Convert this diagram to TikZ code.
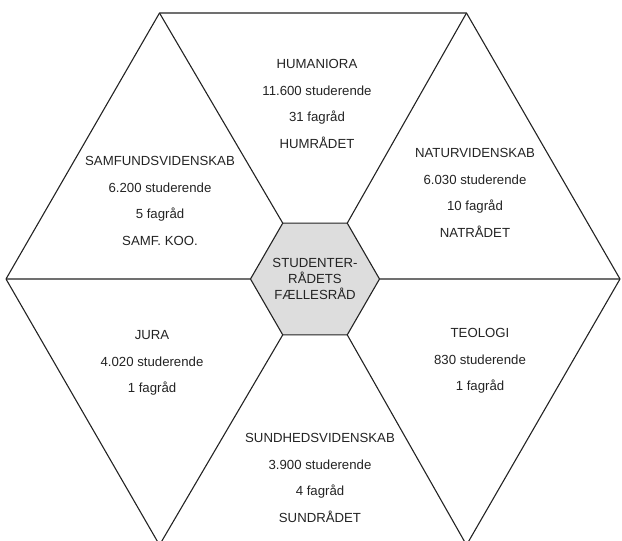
\documentclass[tikz,border=0pt]{standalone}
\usepackage{fontspec}
\setmainfont{Liberation Sans}
\usetikzlibrary{shapes.geometric}

\definecolor{linegray}{RGB}{35,35,35}
\definecolor{hexfill}{RGB}{221,221,221}

\tikzset{
  field/.style={align=center, text=linegray, font=\fontsize{13.2}{26.5}\selectfont},
  council/.style={regular polygon, regular polygon sides=6, minimum size=129pt,
    inner sep=0pt, outer sep=0pt, draw=linegray, fill=hexfill},
  councillabel/.style={align=center, text=linegray, inner sep=0pt,
    font=\fontsize{13.2}{16}\selectfont}
}

\begin{document}
\begin{tikzpicture}[x=1pt,y=-1pt,line width=1.1pt,line join=round]
            \useasboundingbox (0,0) rectangle (622,541);
            \clip (0,0) rectangle (622,541);
            % outer corners
            \coordinate (o_l)  at (6,279);
            \coordinate (o_tl) at (159.5,13);
            \coordinate (o_tr) at (466.5,13);
            \coordinate (o_r)  at (620,279);
            \coordinate (o_br) at (466.5,545);
            \coordinate (o_bl) at (159.5,545);
            \draw[linegray] (o_bl) -- (o_l) -- (o_tl) -- (o_tr) -- (o_r) -- (o_br);
            \node[council] (srf) at (315,279) {};
            \node[councillabel] (srf_text) at (srf.center) {STUDENTER-\\RÅDETS\\FÆLLESRÅD};
            \draw[linegray]
            (srf.180) -- (o_l)
            (srf.120) -- (o_tl)
            (srf.60)  -- (o_tr)
            (srf.0)   -- (o_r)
            (srf.-60) -- (o_br)
            (srf.-120) -- (o_bl);
            \node[field] (hum)  at (317,104) {HUMANIORA\\11.600 studerende\\31 fagråd\\HUMRÅDET};
            \node[field] (samf) at (160,201) {SAMFUNDSVIDENSKAB\\6.200 studerende\\5 fagråd\\SAMF. KOO.};
            \node[field] (nat)  at (475,193) {NATURVIDENSKAB\\6.030 studerende\\10 fagråd\\NATRÅDET};
            \node[field] (jura) at (152,363) {JURA\\4.020 studerende\\1 fagråd};
            \node[field] (teo)  at (480,361) {TEOLOGI\\830 studerende\\1 fagråd};
            \node[field] (sund) at (320,478) {SUNDHEDSVIDENSKAB\\3.900 studerende\\4 fagråd\\SUNDRÅDET};
        \end{tikzpicture}
\end{document}
